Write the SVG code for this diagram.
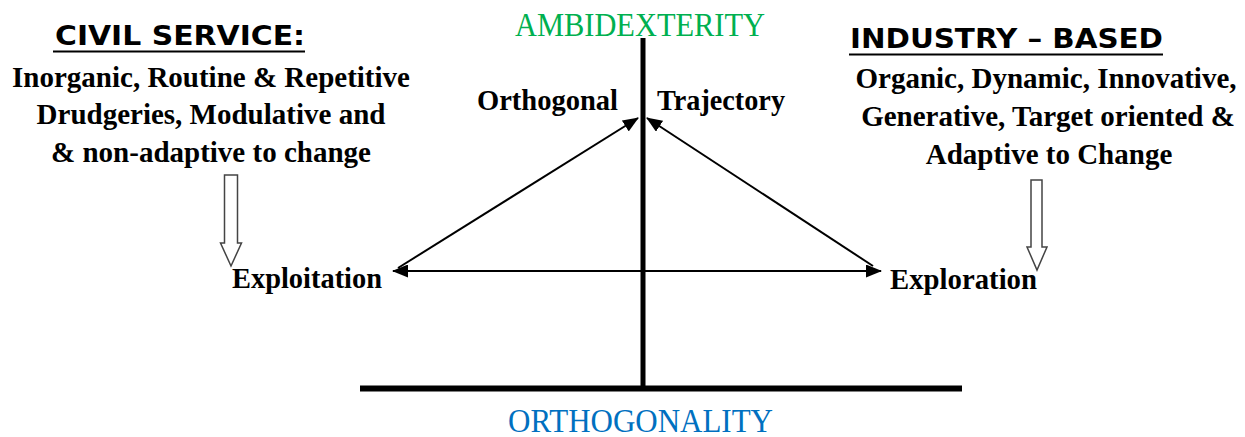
<svg xmlns="http://www.w3.org/2000/svg" width="1245" height="437" viewBox="0 0 1245 437">
<style>
.head{font-family:"DejaVu Sans","Liberation Sans",sans-serif;font-weight:bold;font-size:27px;fill:#000}
.body{font-family:"Liberation Serif","Times New Roman",serif;font-weight:bold;font-size:29px;fill:#000}
.axis{font-family:"Liberation Serif","Times New Roman",serif;font-size:33px}
.conn{stroke:#000;stroke-width:2;fill:none}
.hollow{fill:#fff;stroke:#444;stroke-width:1.5}
</style>
<defs>
<marker id="ah" markerUnits="userSpaceOnUse" markerWidth="16" markerHeight="13" refX="15" refY="6.5" orient="auto">
<path d="M0,0 L16,6.5 L0,13 z" fill="#000"/>
</marker>
<marker id="ahs" markerUnits="userSpaceOnUse" markerWidth="16" markerHeight="13" refX="1" refY="6.5" orient="auto">
<path d="M16,0 L0,6.5 L16,13 z" fill="#000"/>
</marker>
</defs>
<rect width="1245" height="437" fill="#fff"/>

<g id="civil-service">
<text class="head" x="55" y="45" textLength="250" lengthAdjust="spacingAndGlyphs">CIVIL SERVICE:</text>
<line x1="53" y1="51.5" x2="305" y2="51.5" stroke="#000" stroke-width="2"/>
<text class="body" text-anchor="middle" x="211" y="87">Inorganic, Routine &amp; Repetitive</text>
<text class="body" text-anchor="middle" x="211" y="124">Drudgeries, Modulative and</text>
<text class="body" text-anchor="middle" x="211" y="162">&amp; non-adaptive to change</text>
<polygon class="hollow" points="224.5,175 237.5,175 237.5,243 241.5,243 231,266 220.5,243 224.5,243"/>
</g>

<g id="industry-based">
<text class="head" x="850" y="48" textLength="313" lengthAdjust="spacingAndGlyphs">INDUSTRY – BASED</text>
<line x1="849" y1="54.5" x2="1163" y2="54.5" stroke="#000" stroke-width="2"/>
<text class="body" text-anchor="middle" x="1046" y="88">Organic, Dynamic, Innovative,</text>
<text class="body" text-anchor="middle" x="1048" y="126">Generative, Target oriented &amp;</text>
<text class="body" text-anchor="middle" x="1049" y="164">Adaptive to Change</text>
<polygon class="hollow" points="1031,180 1042,180 1042,247 1047,247 1037,270 1027,247 1031,247"/>
</g>

<g id="ambidexterity">
<text class="axis" x="515" y="36" fill="#00b050" textLength="250" lengthAdjust="spacingAndGlyphs">AMBIDEXTERITY</text>
</g>

<g id="orthogonality">
<text class="axis" x="508" y="432" fill="#0070c0" textLength="265" lengthAdjust="spacingAndGlyphs">ORTHOGONALITY</text>
</g>

<g id="orthogonal-trajectory">
<text class="body" x="477" y="110" textLength="141" lengthAdjust="spacingAndGlyphs">Orthogonal</text>
<text class="body" x="657" y="110" textLength="128" lengthAdjust="spacingAndGlyphs">Trajectory</text>
</g>

<g id="exploitation">
<text class="body" x="232" y="288" textLength="150" lengthAdjust="spacingAndGlyphs">Exploitation</text>
</g>

<g id="exploration">
<text class="body" x="890" y="289" textLength="147" lengthAdjust="spacingAndGlyphs">Exploration</text>
</g>

<g id="connectors">
<line x1="643" y1="38" x2="643" y2="388" stroke="#000" stroke-width="5"/>
<line x1="360" y1="388.5" x2="962" y2="388.5" stroke="#000" stroke-width="6"/>
<line class="conn" x1="393" y1="271" x2="881" y2="271" marker-start="url(#ahs)" marker-end="url(#ah)"/>
<line class="conn" x1="398" y1="268" x2="638" y2="118" marker-end="url(#ah)"/>
<line class="conn" x1="873" y1="266" x2="647" y2="118" marker-end="url(#ah)"/>
</g>
</svg>
